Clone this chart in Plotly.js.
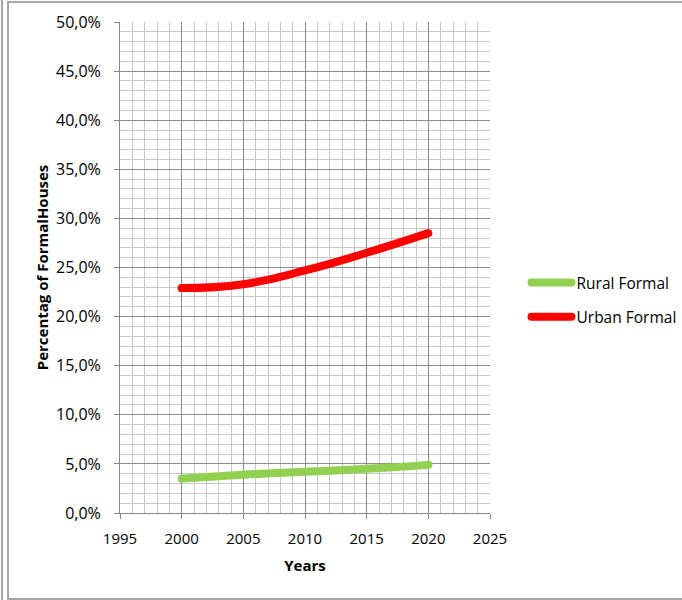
<!DOCTYPE html>
<html>
<head>
<meta charset="utf-8">
<script src="https://cdn.plot.ly/plotly-3.0.1.min.js"></script>
<style>
  html, body { margin: 0; padding: 0; background: #fff; overflow: hidden; }
  #chart { position: absolute; left: 0; top: 0; width: 682px; height: 600px; }
  .frame-outer { position: absolute; left: 1px; top: 0; width: 2px; height: 600px; background: #a6a6a6; }
  .frame-inner { position: absolute; left: 7px; top: 1px; width: 700px; height: 595px;
                 border: 2px solid #a6a6a6; border-right: none; box-sizing: content-box; pointer-events: none; }
  /* rounded ends on the series lines and legend samples */
  #chart path.js-line, #chart .legendlines path { stroke-linecap: round; stroke-linejoin: round; }
</style>
</head>
<body>
<div id="chart"></div>
<div class="frame-outer"></div>
<div class="frame-inner"></div>
<script>
// Share of formal houses by year
const years = [2000, 2005, 2010, 2015, 2020];
const ruralFormal = [0.035, 0.039, 0.042, 0.045, 0.049];
const urbanFormal = [0.229, 0.233, 0.247, 0.265, 0.285];
const seriesNames = ['Rural Formal', 'Urban Formal'];
const seriesColors = ['#92D050', '#FF0000'];

const baseFont = { family: 'Open Sans, Noto Sans, sans-serif', size: 14, color: '#000' };

const traces = [ruralFormal, urbanFormal].map((vals, i) => ({
  x: years,
  y: vals,
  type: 'scatter',
  mode: 'lines',
  name: seriesNames[i],
  legendgroup: 'g' + i,
  line: { color: seriesColors[i], width: 8, shape: 'spline', smoothing: 1.3 },
  hoverinfo: 'skip'
}));

const layout = {
  width: 682,
  height: 600,
  margin: { l: 120, r: 192, t: 22, b: 87, autoexpand: false },
  paper_bgcolor: '#fff',
  plot_bgcolor: '#fff',
  separators: ',.',
  font: baseFont,
  showlegend: true,
  legend: {
    xref: 'container', yref: 'container',
    x: 0.772, y: 0.5, xanchor: 'left', yanchor: 'middle',
    font: { family: 'Open Sans, Noto Sans, sans-serif', size: 15.5, color: '#000' },
    tracegroupgap: 11,
    itemwidth: 40,
    bgcolor: 'rgba(0,0,0,0)'
  },
  xaxis: {
    range: [1995, 2025],
    tick0: 1995, dtick: 5,
    ticks: 'outside', ticklen: 5, tickcolor: '#868686', tickwidth: 1,
    ticklabelstandoff: 7,
    showgrid: true, gridcolor: '#8c8c8c', gridwidth: 1,
    minor: { dtick: 1, showgrid: true, gridcolor: '#c8c8c8', gridwidth: 1 },
    showline: true, linecolor: '#868686', linewidth: 1, mirror: false,
    zeroline: false,
    automargin: false,
    tickfont: { size: 15 },
    title: { text: 'Years', font: { size: 15, weight: 'bold' }, standoff: 13 }
  },
  yaxis: {
    range: [0, 0.5],
    tick0: 0, dtick: 0.05,
    tickformat: '.1%',
    ticks: 'outside', ticklen: 5, tickcolor: '#868686', tickwidth: 1,
    ticklabelstandoff: 10,
    showgrid: true, gridcolor: '#8c8c8c', gridwidth: 1,
    minor: { dtick: 0.01, showgrid: true, gridcolor: '#c8c8c8', gridwidth: 1 },
    showline: true, linecolor: '#868686', linewidth: 1,
    zeroline: false,
    automargin: false,
    tickfont: { size: 16 },
    title: { text: 'Percentag of FormalHouses', font: { size: 15, weight: 'bold' }, standoff: 3 }
  }
};

Plotly.newPlot('chart', traces, layout, { displayModeBar: false, staticPlot: true });
</script>
</body>
</html>
